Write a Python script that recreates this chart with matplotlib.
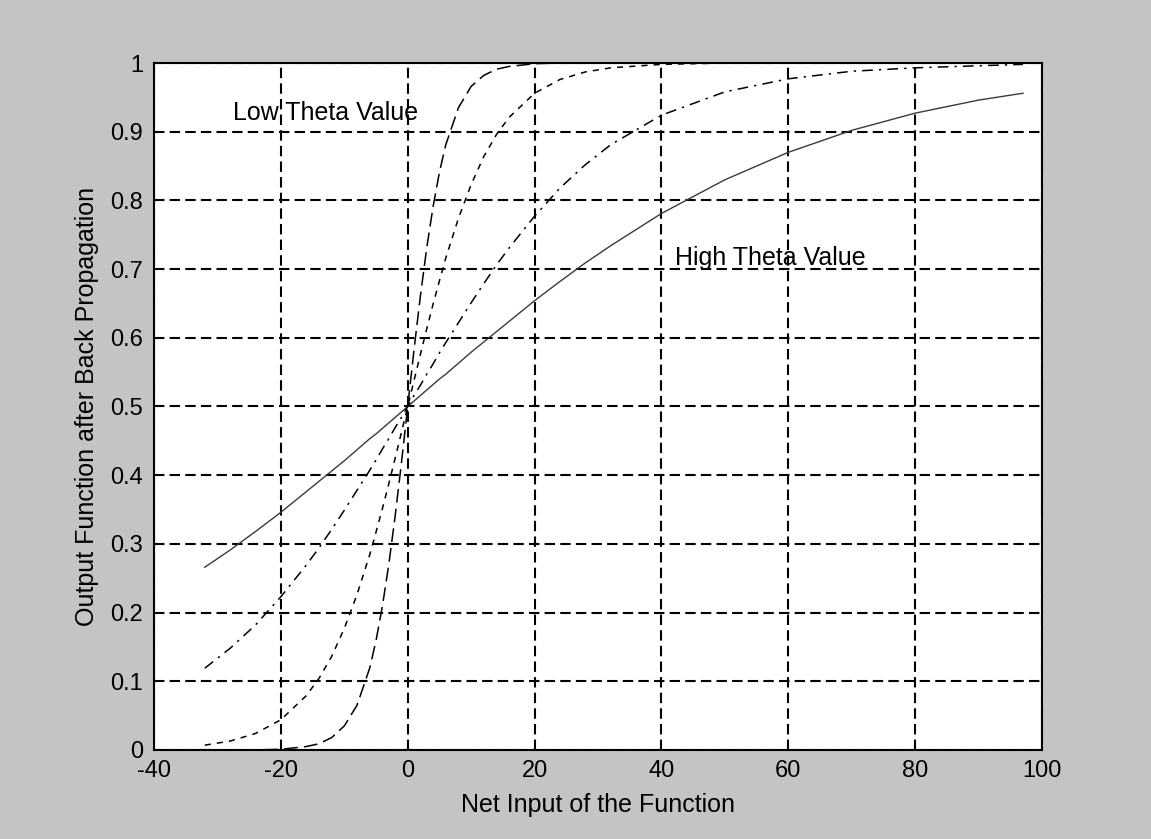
import matplotlib.pyplot as plt

plt.rcParams['font.family'] = ['Liberation Sans', 'DejaVu Sans']
plt.rcParams['axes.unicode_minus'] = False

# Net input samples (shared by every curve)
net_input = [-32, -28, -24, -20, -16, -14, -12, -10, -8, -6, -5, -4, -3, -2, -1,
             0, 1, 2, 3, 4, 5, 6, 8, 10, 12, 14, 16, 20, 24, 28, 32,
             40, 50, 60, 70, 80, 90, 97]

# Sigmoid output for four theta values, largest theta first
out_theta_high = [0.266, 0.291, 0.318, 0.346, 0.376, 0.391, 0.406, 0.421, 0.437,
                  0.453, 0.460, 0.468, 0.476, 0.484, 0.492, 0.500, 0.508, 0.516,
                  0.524, 0.532, 0.540, 0.547, 0.563, 0.579, 0.594, 0.609, 0.624,
                  0.654, 0.682, 0.709, 0.734, 0.781, 0.830, 0.870, 0.902, 0.927,
                  0.946, 0.956]
out_theta_mid = [0.119, 0.148, 0.182, 0.223, 0.269, 0.294, 0.321, 0.349, 0.378,
                 0.407, 0.422, 0.438, 0.453, 0.469, 0.484, 0.500, 0.516, 0.531,
                 0.547, 0.562, 0.578, 0.593, 0.622, 0.651, 0.679, 0.706, 0.731,
                 0.777, 0.818, 0.852, 0.881, 0.924, 0.958, 0.977, 0.988, 0.993,
                 0.996, 0.998]
out_theta_small = [0.007, 0.013, 0.024, 0.044, 0.079, 0.104, 0.136, 0.177, 0.226,
                   0.284, 0.317, 0.351, 0.387, 0.424, 0.462, 0.500, 0.538, 0.576,
                   0.613, 0.649, 0.683, 0.716, 0.774, 0.823, 0.864, 0.896, 0.921,
                   0.956, 0.976, 0.987, 0.993, 0.998, 1.000, 1.000, 1.000, 1.000,
                   1.000, 1.000]
out_theta_low = [0.000, 0.000, 0.000, 0.001, 0.005, 0.009, 0.018, 0.035, 0.065,
                 0.119, 0.159, 0.209, 0.269, 0.339, 0.417, 0.500, 0.583, 0.661,
                 0.731, 0.791, 0.841, 0.881, 0.935, 0.966, 0.982, 0.991, 0.995,
                 0.999, 1.000, 1.000, 1.000, 1.000, 1.000, 1.000, 1.000, 1.000,
                 1.000, 1.000]

x_ticks = [-40, -20, 0, 20, 40, 60, 80, 100]
y_ticks = [0, 0.1, 0.2, 0.3, 0.4, 0.5, 0.6, 0.7, 0.8, 0.9, 1]
y_tick_labels = ['0', '0.1', '0.2', '0.3', '0.4', '0.5', '0.6', '0.7', '0.8', '0.9', '1']

fig = plt.figure(figsize=(11.51, 8.39), dpi=100, facecolor='#c4c4c4')
ax = fig.add_axes([0.1338, 0.1061, 0.7715, 0.8188])
ax.set_facecolor('white')

ax.plot(net_input, out_theta_high, color='#3a3a3a', lw=1.0, ls='-')
ax.plot(net_input, out_theta_mid, color='black', lw=1.1, ls=(0, (7, 4, 1.5, 4)))
ax.plot(net_input, out_theta_small, color='black', lw=1.1, ls=(0, (4, 4)))
ax.plot(net_input, out_theta_low, color='black', lw=1.1, ls=(0, (9, 4)))

ax.text(-27.5, 0.927, 'Low Theta Value', fontsize=18, va='center', ha='left')
ax.text(42.2, 0.716, 'High Theta Value', fontsize=18, va='center', ha='left')

ax.set_xlim(-40, 100)
ax.set_ylim(0, 1)
ax.set_xticks(x_ticks)
ax.set_yticks(y_ticks)
ax.set_yticklabels(y_tick_labels)
ax.tick_params(direction='in', length=4, width=1.2, labelsize=17)
ax.tick_params(axis='x', pad=7)
ax.tick_params(axis='y', pad=8)

ax.grid(True, color='black', lw=1.5, ls=(0, (5, 2.5)))
for side in ax.spines.values():
    side.set_linewidth(1.5)
    side.set_color('black')

ax.set_xlabel('Net Input of the Function', fontsize=18, labelpad=8)
ax.set_ylabel('Output Function after Back Propagation', fontsize=18, labelpad=8)

fig.savefig('out.png', dpi=100, facecolor=fig.get_facecolor())
